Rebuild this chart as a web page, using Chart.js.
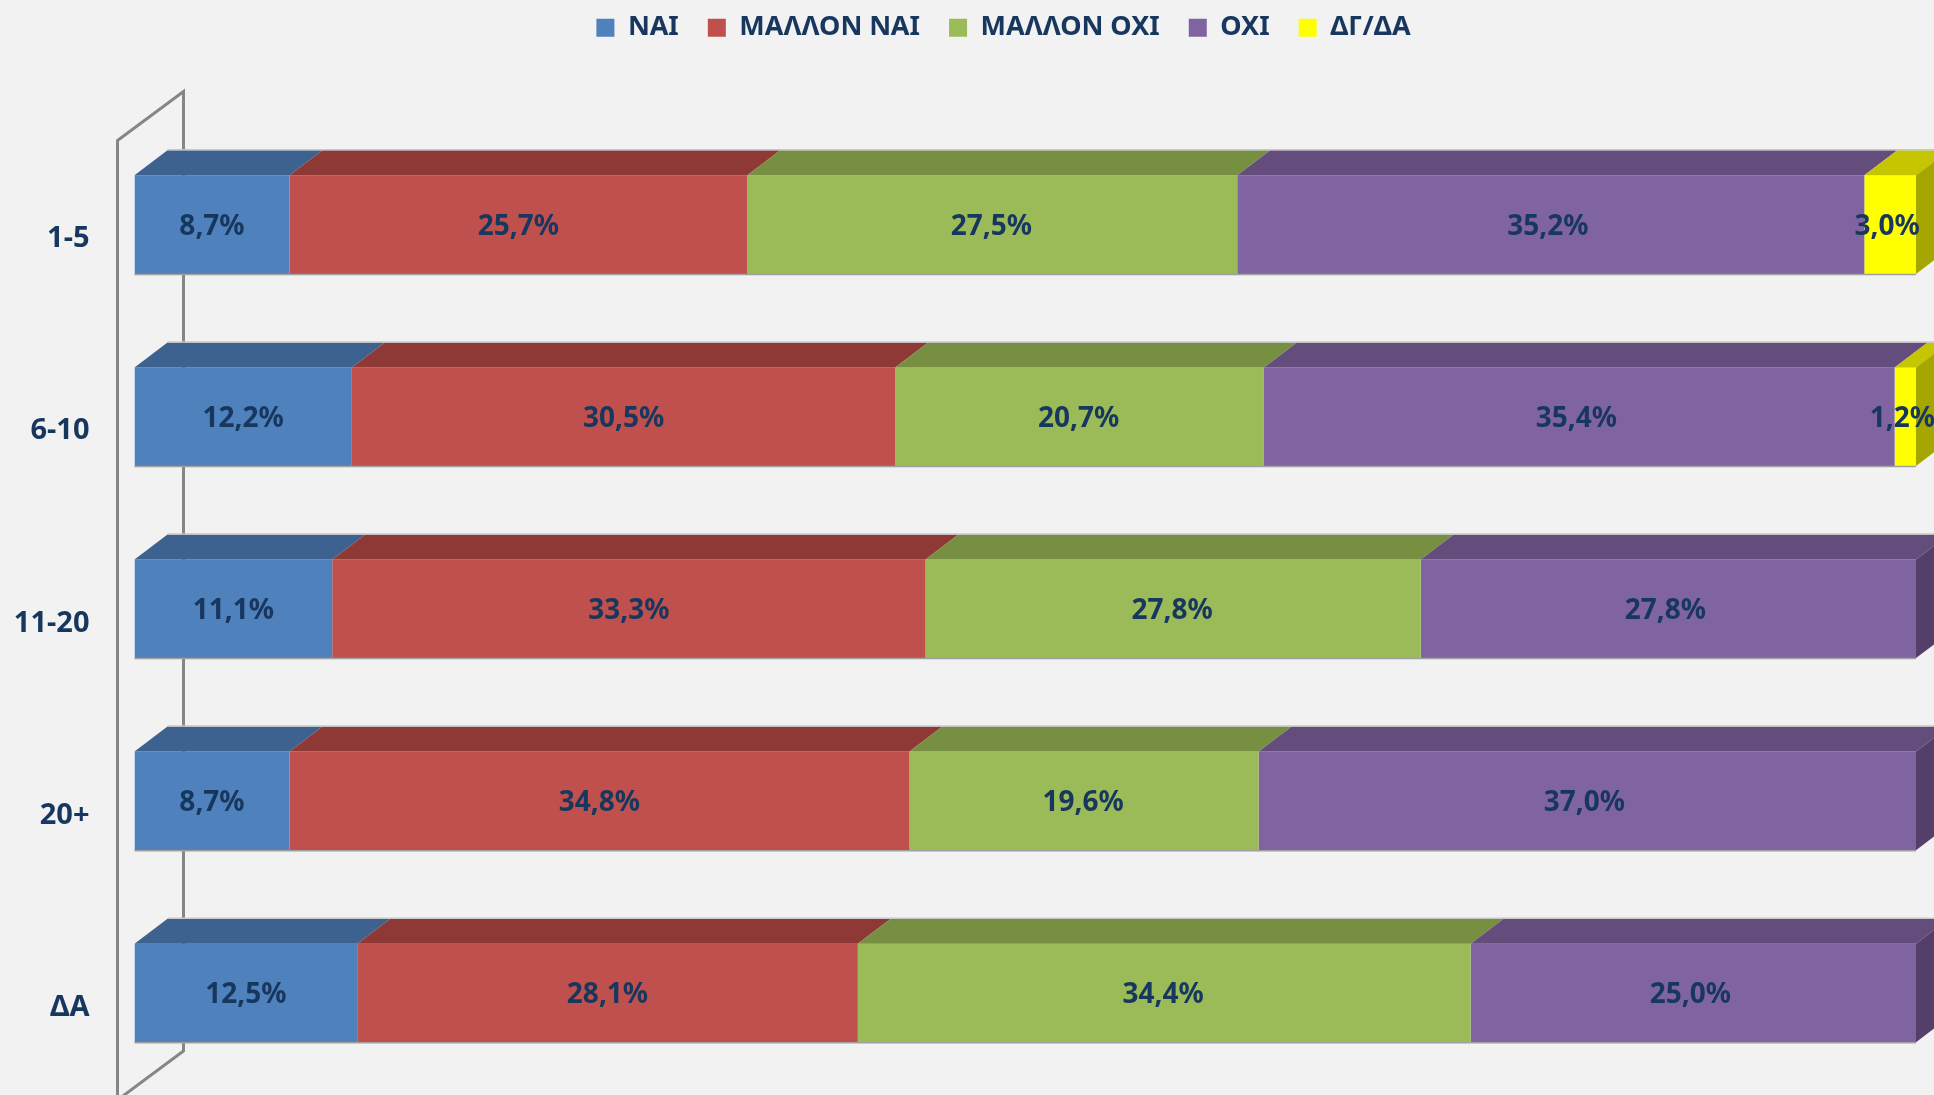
<!DOCTYPE html>
<html lang="el">
<head>
    <meta charset="UTF-8">
    <title>Stacked bars</title>
    <style>
        html, body { margin: 0; background: #F2F2F2; }
        #wrap { width: 1934px; height: 1095px; overflow: hidden; }
    </style>
</head>
<body>
    <div id="wrap"><canvas id="chart"></canvas></div>
    <script src="https://cdn.jsdelivr.net/npm/chart.js"></script>
    <script>
        const categories = ['1-5', '6-10', '11-20', '20+', 'ΔΑ'];
        const seriesNames = ['ΝΑΙ', 'ΜΑΛΛΟΝ ΝΑΙ', 'ΜΑΛΛΟΝ ΟΧΙ', 'ΟΧΙ', 'ΔΓ/ΔΑ'];
        const nai = [8.7, 12.2, 11.1, 8.7, 12.5];
        const mallonNai = [25.7, 30.5, 33.3, 34.8, 28.1];
        const mallonOxi = [27.5, 20.7, 27.8, 19.6, 34.4];
        const oxi = [35.2, 35.4, 27.8, 37.0, 25.0];
        const dgda = [3.0, 1.2, null, null, null];
        const seriesValues = [nai, mallonNai, mallonOxi, oxi, dgda];

        const frontColors = ['#4F81BD', '#C0504D', '#9BBB59', '#8064A2', '#FFFF00'];
        const topColors = ['#3D628F', '#8F3937', '#768F41', '#644D7C', '#C6C600'];
        const sideColors = ['#34547A', '#7A302E', '#647A37', '#533F69', '#A6A600'];
        const fontFamily = '"Noto Sans", sans-serif';
        const textColor = '#17375E';
        const depthX = 33;
        const depthY = 25;
        // the source labels sit a little left of centre on the last two series
        const labelShift = [0, 0, -1, -3, -3];

        const datasets = seriesNames.map((name, s) => ({
            label: name,
            data: seriesValues[s],
            backgroundColor: frontColors[s],
            borderWidth: 0,
            barPercentage: 0.513,
            categoryPercentage: 1
        }));

        function face(ctx, color, pts) {
            ctx.fillStyle = color;
            ctx.beginPath();
            pts.forEach((p, i) => i ? ctx.lineTo(p[0], p[1]) : ctx.moveTo(p[0], p[1]));
            ctx.closePath();
            ctx.fill();
        }

        const wallPlugin = {
            id: 'wall',
            afterLayout(chart) {
                // the legend row sits higher and further right than the default spot
                chart.legend.top = -14.7;
                chart.legend.left += 45.5;
                chart.legend.right += 45.5;
            },
            beforeDatasetsDraw(chart) {
                const { ctx, chartArea: a } = chart;
                const x0 = a.left - 17;
                const x1 = x0 + 66;
                ctx.save();
                ctx.strokeStyle = '#868686';
                ctx.lineWidth = 3;
                ctx.beginPath();
                ctx.moveTo(x0, a.bottom + 12);
                ctx.lineTo(x0, a.top + 12);
                ctx.lineTo(x1, a.top - 37);
                ctx.lineTo(x1, a.bottom - 38);
                ctx.lineTo(x0, a.bottom + 11);
                ctx.stroke();
                ctx.restore();
            }
        };

        const depthPlugin = {
            id: 'depth',
            afterDatasetsDraw(chart) {
                const { ctx, chartArea } = chart;
                // some rows add up to 100,1 and run past the axis end
                const endOf = bar => Math.min(bar.x, chartArea.right);
                ctx.save();
                categories.forEach((c, i) => {
                    let last = null;
                    seriesNames.forEach((n, s) => {
                        const bar = chart.getDatasetMeta(s).data[i];
                        if (seriesValues[s][i] === null) return;
                        const top = bar.y - bar.height / 2;
                        const end = endOf(bar);
                        face(ctx, topColors[s], [[bar.base, top], [bar.base + depthX, top - depthY], [end + depthX, top - depthY], [end, top]]);
                        last = s;
                    });
                    const bar = chart.getDatasetMeta(last).data[i];
                    const end = endOf(bar);
                    const top = bar.y - bar.height / 2;
                    const bottom = bar.y + bar.height / 2;
                    face(ctx, sideColors[last], [[end, top], [end + depthX, top - depthY], [end + depthX, bottom - depthY], [end, bottom]]);
                    // thin edges around the box
                    ctx.lineWidth = 1.5;
                    ctx.strokeStyle = '#A0A0A0';
                    ctx.beginPath();
                    ctx.moveTo(chartArea.left, bottom + 0.5);
                    ctx.lineTo(end, bottom + 0.5);
                    ctx.stroke();
                    ctx.strokeStyle = '#C8C8C8';
                    ctx.beginPath();
                    ctx.moveTo(chartArea.left + depthX, top - depthY - 0.5);
                    ctx.lineTo(end + depthX, top - depthY - 0.5);
                    ctx.stroke();
                });
                ctx.font = 'bold 28px ' + fontFamily;
                ctx.fillStyle = textColor;
                ctx.textAlign = 'center';
                ctx.textBaseline = 'middle';
                seriesNames.forEach((n, s) => {
                    chart.getDatasetMeta(s).data.forEach((bar, i) => {
                        const v = seriesValues[s][i];
                        if (v === null) return;
                        const mid = (bar.base + endOf(bar)) / 2 + labelShift[s];
                        ctx.fillText(v.toFixed(1).replace('.', ',') + '%', mid, bar.y + 2);
                    });
                });
                ctx.restore();
            }
        };

        new Chart(document.getElementById('chart'), {
            type: 'bar',
            data: { labels: categories, datasets: datasets },
            plugins: [wallPlugin, depthPlugin],
            options: {
                indexAxis: 'y',
                responsive: true,
                maintainAspectRatio: false,
                animation: false,
                layout: { padding: { top: 62.6, right: 18, bottom: 6, left: 0 } },
                scales: {
                    x: { stacked: true, display: false, min: 0, max: 100 },
                    y: {
                        stacked: true,
                        border: { display: false },
                        grid: { display: false, drawTicks: false },
                        ticks: {
                            color: textColor,
                            font: { family: fontFamily, size: 29, weight: 'bold' },
                            padding: 45,
                            labelOffset: 14.5
                        },
                        afterFit(scale) {
                            scale.width = 134.5;
                            scale.paddingTop = 0;
                            scale.paddingBottom = 0;
                        }
                    }
                },
                plugins: {
                    tooltip: { enabled: false },
                    legend: {
                        position: 'top',
                        labels: {
                            color: textColor,
                            font: { family: fontFamily, size: 27, weight: 'bold' },
                            boxWidth: 18,
                            boxHeight: 18,
                            padding: 29
                        }
                    }
                }
            }
        });
    </script>
</body>
</html>
